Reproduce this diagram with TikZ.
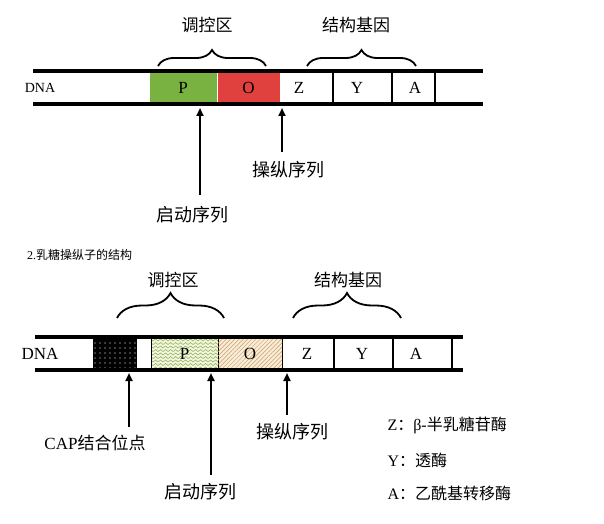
\documentclass[tikz,border=0pt]{standalone}
\usepackage{fontspec}
\setmainfont{Liberation Serif}
\newfontfamily\cjk{Noto Sans CJK SC}
\usetikzlibrary{arrows.meta, positioning, decorations.pathreplacing, decorations.pathmorphing, patterns.meta}
\definecolor{pgreen}{RGB}{122,178,66}
\definecolor{ored}{RGB}{224,64,62}
\definecolor{wavebg}{RGB}{242,246,222}
\definecolor{wave}{RGB}{140,170,80}
\definecolor{hatchbg}{RGB}{250,236,214}
\definecolor{hatch}{RGB}{196,156,104}
\newcommand{\zh}[1]{{\cjk #1}}
\tikzset{
  strand/.style={line width=4pt},
  sep/.style={line width=2pt},
  gene/.style={minimum width=#1, minimum height=33pt, inner sep=0pt, font=\fontsize{17}{17}\selectfont},
  letter/.style={font=\fontsize{17}{17}\selectfont},
  lbl/.style={font=\cjk\fontsize{17}{17}\selectfont},
  arr/.style={line width=2.5pt, -{Triangle[width=7pt,length=8pt]}},
  brc/.style={decorate, decoration={brace, amplitude=#1}, line width=1.8pt},
}

\begin{document}
\begin{tikzpicture}[x=1pt, y=1pt]
      \useasboundingbox (0,0) rectangle (604,523);
      % first operon
      \node[gene=68pt, fill=pgreen, draw=white, thin] (P1) at (183,435.5) {P};
      \node[gene=63pt, fill=ored, draw=white, thin] (O1) at (248.5,435.5) {O};
      \draw[strand] (33,452) -- (483,452);
      \draw[strand] (33,419) -- (483,419);
      \foreach \x in {333,392,435}
        \draw[sep] (\x,419) -- (\x,452);
      \node[letter] (Z1) at (299,435.5) {Z};
      \node[letter] (Y1) at (357,435.5) {Y};
      \node[letter] (A1) at (415,435.5) {A};
      \node[font=\fontsize{14}{14}\selectfont] (dna1) at (40,435.5) {DNA};
      \draw[brc=16pt] (158,457) -- (266,457);
      \draw[brc=16pt] (307,457) -- (416,457);
      \node[lbl] (reg1) at (207,498) {调控区};
      \node[lbl] (str1) at (356,498) {结构基因};
      \coordinate (p1tail) at (200,328);
      \coordinate (p1tip) at (200,415);
      \coordinate (o1tail) at (282,371);
      \coordinate (o1tip) at (282,415);
      \draw[arr] (p1tail) -- (p1tip);
      \draw[arr] (o1tail) -- (o1tip);
      \node[lbl, font=\cjk\fontsize{18}{18}\selectfont] (prom1) at (192,308) {启动序列};
      \node[lbl, font=\cjk\fontsize{18}{18}\selectfont] (oper1) at (288,353) {操纵序列};

      \node[anchor=west, inner sep=0pt, font=\fontsize{12}{12}\selectfont] (title) at (27,268) {2.\zh{乳糖操纵子的结构}};

      % second operon
      \node[gene=44pt, fill=black, postaction={pattern={Dots[distance=5pt, radius=0.6pt]}, pattern color=white}] (cap) at (115,169.5) {};
      \fill[wavebg] (151,153) rectangle (218,186);
      \begin{scope}
        \clip (151,153) rectangle (218,186);
        \foreach \y in {155,158.5,...,186}
          \draw[wave, line width=0.5pt, decorate, decoration={snake, amplitude=1pt, segment length=5pt}] (149,\y) -- (220,\y);
      \end{scope}
      \node[gene=67pt, draw, thin] (P2) at (184.5,169.5) {P};
      \node[gene=64pt, draw, thin, fill=hatchbg, postaction={pattern={Lines[angle=45, distance=3pt, line width=0.5pt]}, pattern color=hatch}] (O2) at (250,169.5) {O};
      \draw[strand] (35,186) -- (463,186);
      \draw[strand] (35,153) -- (463,153);
      \foreach \x in {334,393,452}
        \draw[sep] (\x,153) -- (\x,186);
      \node[letter] (Z2) at (307,169.5) {Z};
      \node[letter] (Y2) at (362,169.5) {Y};
      \node[letter] (A2) at (416,169.5) {A};
      \node[font=\fontsize{17}{17}\selectfont] (dna2) at (40,169.5) {DNA};
      \draw[brc=25pt] (117,205) -- (224,205);
      \draw[brc=25pt] (293,205) -- (401,205);
      \node[lbl] (reg2) at (173,243) {调控区};
      \node[lbl] (str2) at (348,243) {结构基因};
      \coordinate (captail) at (129,96);
      \coordinate (captip) at (129,150);
      \coordinate (p2tail) at (211,48);
      \coordinate (p2tip) at (211,150);
      \coordinate (o2tail) at (287,108);
      \coordinate (o2tip) at (287,150);
      \draw[arr] (captail) -- (captip);
      \draw[arr] (p2tail) -- (p2tip);
      \draw[arr] (o2tail) -- (o2tip);
      \node[font=\fontsize{17}{17}\selectfont] (capl) at (95,80) {CAP\zh{结合位点}};
      \node[lbl, font=\cjk\fontsize{18}{18}\selectfont] (prom2) at (200,31) {启动序列};
      \node[lbl, font=\cjk\fontsize{18}{18}\selectfont] (oper2) at (292,91) {操纵序列};

      % legend
      \node[anchor=west, font=\fontsize{16}{16}\selectfont] (legZ) at (384,98) {Z\zh{：}β-\zh{半乳糖苷酶}};
      \node[anchor=west, font=\fontsize{16}{16}\selectfont] (legY) at (384,63) {Y\zh{：透酶}};
      \node[anchor=west, font=\fontsize{16}{16}\selectfont] (legA) at (384,30) {A\zh{：乙酰基转移酶}};
    \end{tikzpicture}
\end{document}
